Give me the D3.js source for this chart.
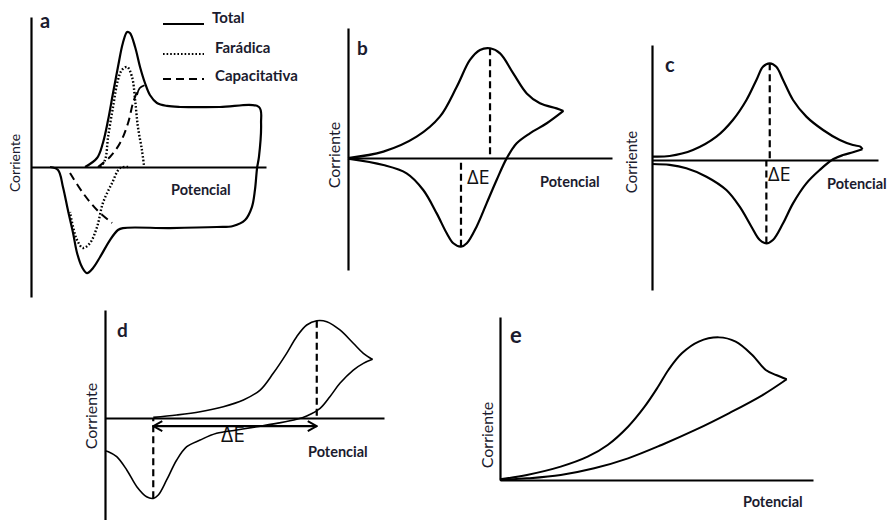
<!DOCTYPE html>
<html>
<head>
<meta charset="utf-8">
<script src="https://cdn.jsdelivr.net/npm/d3@7"></script>
<style>
body { margin: 0; background: #fff; }
text { font-family: Lato, "Open Sans", sans-serif; fill: #1b1b2e; }
</style>
</head>
<body>
<div id="canvas"></div>
<script>
// labels
const panelLetters = ["a", "b", "c", "d", "e"];
const xLabel = "Potencial";
const yLabel = "Corriente";
const deltaLabel = "ΔE";
const legendLabels = ["Total", "Farádica", "Capacitativa"];

// curves as [potencial, corriente] in relative units (0-100)
// panel a
const totalA = [[23.0,0],[28.1,6],[30.6,16],[32.8,31.3],[34.9,49.3],[37.0,66.7],[39.1,82.7],[40.9,90],[42.1,89.3],[44.3,80],[46.4,66.7],[48.5,56],[50.6,48],[53.6,42.7],[57.9,40.7],[63.4,40],[80.4,40],[97.0,40],[97.9,29.3],[97.0,6.7],[96.2,-0.7],[95.3,-15.3],[94.0,-26.7],[91.1,-35.3],[86.0,-39.3],[79.1,-40],[59.1,-40.7],[39.1,-40.7],[37.0,-42],[33.6,-48.7],[29.4,-60],[26.4,-67.3],[23.8,-70.7],[21.7,-66.7],[19.6,-57.3],[17.9,-44],[15.7,-28.7],[13.6,-13.3],[11.5,-2],[8.1,0]];
const faradicFwdA = [[29.4,0],[31.5,4.7],[32.8,20],[34.9,40],[37.0,58],[38.7,64.7],[40.9,66.7],[43.0,60],[44.3,44.7],[45.5,26.7],[47.2,11.3],[48.1,0.7]];
const faradicRevA = [[41.3,0],[37.9,-0.7],[34.5,-10.7],[30.6,-24],[28.1,-40],[25.1,-50.7],[22.1,-54],[19.6,-48.7],[17.9,-40],[16.6,-30]];
const capFwdA = [[28.5,0],[33.6,6.7],[37.9,16],[41.3,29.3],[43.4,42.7],[45.1,50]];
const capHookA = [[45.1,48],[46.2,52.5],[48.3,54.5]];
const capRevA = [[16.6,-4],[22.1,-17.3],[28.1,-28.7],[34.5,-37.3]];

// panel b
const fwdB = [[0,0],[13.4,4.9],[26.0,16.4],[34.8,31.8],[41.2,54.8],[46.2,75.4],[50.0,83.1],[53.8,84.4],[57.6,80.5],[62.6,65.1],[67.7,49.7],[72.7,42.1],[79.0,38.2],[81.6,36.2]];
const revB = [[81.6,36.2],[75.3,26.7],[68.9,19.0],[63.9,11.3],[60.1,-0.3],[56.3,-16.9],[52.5,-34.9],[48.7,-52.8],[45.0,-65.6],[42.8,-68.2],[39.9,-65.6],[37.4,-57.9],[33.6,-42.6],[28.5,-24.6],[22.2,-11.8],[13.4,-5.4],[0,-0.5]];

// panel c
const fwdC = [[0,3],[7.8,3.5],[18.1,8.7],[28.5,20.3],[35.8,34.8],[41.8,52.2],[46.2,69.6],[49.1,81.1],[52.1,84.1],[55.0,81.1],[58.0,69.6],[62.4,52.2],[68.3,37.7],[75.7,26.1],[83.1,17.4],[88.9,13.0],[92.2,11.6],[93.1,9.3]];
const revC = [[93.1,9.3],[88.9,6.7],[84.5,4.3],[80.1,0.6],[74.2,-8.7],[68.3,-20.3],[62.4,-37.7],[58.0,-55.0],[53.5,-69.6],[50.6,-72.5],[47.7,-69.6],[44.0,-58.0],[38.8,-40.6],[32.9,-26.1],[24.1,-14.5],[15.2,-7.2],[7.8,-4.3],[0,-3.5]];

// panel d
const fwdD = [[17.3,0.6],[25.7,2.8],[34.1,5.8],[42.4,10.5],[49.6,16.7],[55.6,25.9],[60.3,41.4],[65.1,59.9],[68.7,75.3],[72.3,86.1],[75.9,90.1],[79.5,89.2],[84.2,81.5],[89.0,69.2],[92.6,59.9],[95.9,54.3]];
const revD = [[95.9,54.3],[92.6,50.6],[89.0,44.4],[84.2,32.1],[80.6,19.7],[77.1,9.0],[72.3,1.9],[68.7,-1.2],[61.5,-5.0],[54.4,-8.1],[47.2,-11.1],[40.0,-14.2],[34.1,-20.4],[29.3,-26.6],[25.7,-38.9],[22.1,-57.4],[19.1,-71.3],[17.3,-74.4],[14.9,-72.9],[11.4,-63.6],[7.8,-48.1],[4.2,-35.8],[1.2,-31.2],[0,-30.3]];
const arrowLevelD = -7.5;

// panel e
const fwdE = [[0,0.4],[8.6,3.1],[19.4,8.2],[28.0,14.3],[34.4,21.5],[40.9,32.7],[46.2,45.0],[50.5,57.2],[53.8,67.5],[58.1,77.7],[63.5,84.9],[69.9,87.5],[75.3,84.9],[80.6,76.7],[84.9,67.5],[88.2,64.4],[91.6,61.8]];
const revE = [[91.6,61.8],[83.9,52.1],[73.1,40.9],[62.4,30.7],[51.6,21.5],[40.9,13.3],[30.1,7.2],[19.4,3.1],[8.6,1.0],[0,0]];

// layout of each panel (pixels)
const frames = [
    { left: 31, right: 266, top: 17, bottom: 297, zero: 167, letter: [40, 28, 20], pot: [171, 195], cor: [15, 163, 14] },
    { left: 348, right: 612, top: 28, bottom: 270, zero: 158, letter: [357, 55, 19], pot: [540, 187], cor: [334, 155, 16] },
    { left: 652, right: 878, top: 45, bottom: 290, zero: 160, letter: [665, 72, 20], pot: [827, 189], cor: [632, 162, 15] },
    { left: 105, right: 384, top: 310, bottom: 520, zero: 418, letter: [117, 337, 19], pot: [308, 457], cor: [91, 416, 16] },
    { left: 500, right: 813, top: 317, bottom: 480, zero: 480, letter: [510, 343, 22], pot: [743, 507], cor: [487, 435, 16] }
];
const deltaPos = [null, [467, 184, 20, "start"], [768, 181, 20, "start"], [233, 442, 21, "middle"], null];

const svg = d3.select("#canvas").append("svg")
    .attr("width", 891)
    .attr("height", 520);

svg.append("defs").append("marker")
    .attr("id", "arrow")
    .attr("viewBox", "0 -6 11 12")
    .attr("refX", 10)
    .attr("refY", 0)
    .attr("markerUnits", "userSpaceOnUse")
    .attr("markerWidth", 11)
    .attr("markerHeight", 12)
    .attr("orient", "auto-start-reverse")
    .append("path")
    .attr("d", "M1,-5L10,0L1,5")
    .attr("fill", "none")
    .attr("stroke", "#000")
    .attr("stroke-width", 2);

function makePanel(f, i) {
    const x = d3.scaleLinear().domain([0, 100]).range([f.left, f.right]);
    const y = d3.scaleLinear().domain([0, 100]).range([f.zero, f.top]);
    const yAxisScale = d3.scaleLinear().domain([y.invert(f.bottom), 100]).range([f.bottom, f.top]);
    const g = svg.append("g");

    g.append("g")
        .attr("transform", `translate(0, ${f.zero})`)
        .call(d3.axisBottom(x).tickValues([]).tickSizeOuter(0));
    g.append("g")
        .attr("transform", `translate(${f.left}, 0)`)
        .call(d3.axisLeft(yAxisScale).tickValues([]).tickSizeOuter(0));
    g.selectAll(".domain").attr("stroke", "#000").attr("stroke-width", 2.2);

    g.append("text")
        .attr("x", f.letter[0]).attr("y", f.letter[1])
        .style("font-size", f.letter[2] + "px")
        .style("font-weight", "bold")
        .text(panelLetters[i]);
    g.append("text")
        .attr("x", f.pot[0]).attr("y", f.pot[1])
        .style("font-size", "14.5px")
        .style("font-weight", "bold")
        .text(xLabel);
    g.append("text")
        .attr("transform", `translate(${f.cor[0]}, ${f.cor[1]}) rotate(-90)`)
        .attr("text-anchor", "middle")
        .attr("dy", "0.35em")
        .style("font-size", f.cor[2] + "px")
        .text(yLabel);
    const dp = deltaPos[i];
    if (dp) {
        g.append("text")
            .attr("x", dp[0]).attr("y", dp[1])
            .attr("text-anchor", dp[3])
            .style("font-family", "'Open Sans', sans-serif")
            .style("font-size", dp[2] + "px")
            .style("fill", "#111")
            .text(deltaLabel);
    }
    return { x, y, g };
}

const panels = frames.map(makePanel);

function curve(p, data, width, dash) {
    const line = d3.line()
        .x(d => p.x(d[0]))
        .y(d => p.y(d[1]))
        .curve(d3.curveCatmullRom.alpha(0.5));
    return p.g.append("path")
        .datum(data)
        .attr("d", line)
        .attr("fill", "none")
        .attr("stroke", "#000")
        .attr("stroke-width", width)
        .attr("stroke-linejoin", "round")
        .attr("stroke-dasharray", dash || null);
}

function peakLines(p, fwd, rev) {
    const hi = d3.greatest(fwd, d => d[1]);
    const lo = d3.least(rev, d => d[1]);
    [hi, lo].forEach(d => {
        p.g.append("line")
            .attr("x1", p.x(d[0])).attr("x2", p.x(d[0]))
            .attr("y1", p.y(d[1])).attr("y2", p.y(0))
            .attr("stroke", "#000")
            .attr("stroke-width", 2.2)
            .attr("stroke-dasharray", "7,4");
    });
    return [hi, lo];
}

// a
const pa = panels[0];
curve(pa, totalA, 2.2);
curve(pa, faradicFwdA, 2.4, "1.6,2");
curve(pa, faradicRevA, 2.4, "1.6,2");
curve(pa, capFwdA, 2, "8,5");
curve(pa, capRevA, 2, "8,5");
curve(pa, capHookA, 1.8);

const legendStyles = [null, "1.6,2", "8,5"];
const legendY = [24, 54, 79];
const legendTextX = [212, 215, 215];
const legendTextY = [23, 53, 81];
legendLabels.forEach((lab, i) => {
    pa.g.append("line")
        .attr("x1", 163).attr("x2", 204)
        .attr("y1", legendY[i]).attr("y2", legendY[i])
        .attr("stroke", "#000")
        .attr("stroke-width", 2.2)
        .attr("stroke-dasharray", legendStyles[i]);
    pa.g.append("text")
        .attr("x", legendTextX[i]).attr("y", legendTextY[i])
        .style("font-size", "15px")
        .style("font-weight", "bold")
        .text(lab);
});

// b, c
curve(panels[1], fwdB, 2.2);
curve(panels[1], revB, 2.2);
peakLines(panels[1], fwdB, revB);
curve(panels[2], fwdC, 2.2);
curve(panels[2], revC, 2.2);
peakLines(panels[2], fwdC, revC);

// d
const pd = panels[3];
curve(pd, fwdD, 1.6);
curve(pd, revD, 1.6);
const [hiD, loD] = peakLines(pd, fwdD, revD);
pd.g.append("line")
    .attr("x1", pd.x(loD[0])).attr("x2", pd.x(hiD[0]))
    .attr("y1", pd.y(arrowLevelD)).attr("y2", pd.y(arrowLevelD))
    .attr("stroke", "#000")
    .attr("stroke-width", 2.2)
    .attr("marker-start", "url(#arrow)")
    .attr("marker-end", "url(#arrow)");

// e
curve(panels[4], fwdE, 2);
curve(panels[4], revE, 2);
</script>
</body>
</html>
